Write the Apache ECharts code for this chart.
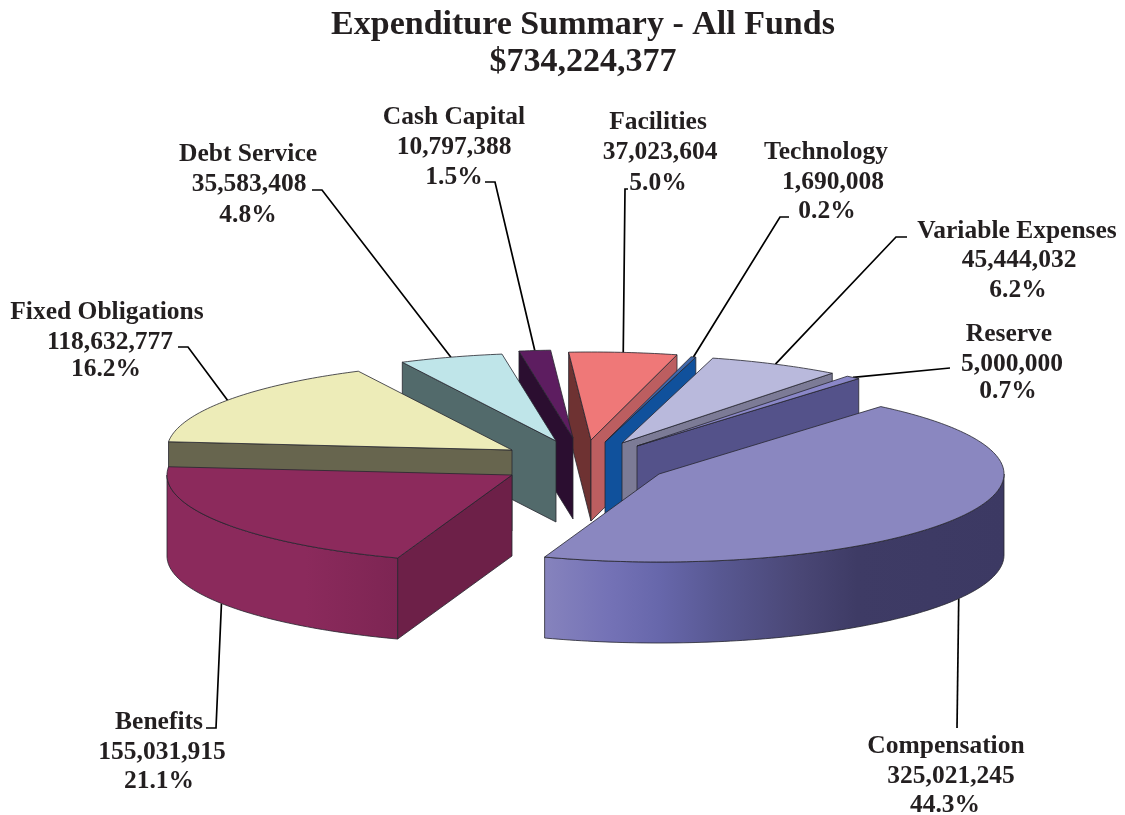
<!DOCTYPE html>
<html>
<head>
<meta charset="utf-8">
<style>html,body{margin:0;padding:0;background:#fff}#c{width:1125px;height:815px}</style>
<script src="https://cdn.jsdelivr.net/npm/echarts@6/dist/echarts.min.js"></script>
</head>
<body>
<div id="c"></div>
<script>
// ---- data ----
const names = ['Compensation','Benefits','Fixed Obligations','Debt Service','Cash Capital','Facilities','Technology','Variable Expenses','Reserve'];
const values = [325021245,155031915,118632777,35583408,10797388,37023604,1690008,45444032,5000000];
const titleText = 'Expenditure Summary - All Funds';

// ---- styling / layout ----
const topColors  = ['#8a87c0','#8c2a5c','#edecb8','#bfe5e9','#5d1d60','#ef7878','#3f68ab','#b9b9dc','#8a87c8'];
const edgeColors = ['#54528a','#6d2048','#67654e','#526a6b','#2b0e30','#6e3232','#10519c','#7c7b96','#54528a'];
const endEdgeColors = {5:'#bc5e60'};
const rimStops = {
  0:[[0,'#8683bd'],[0.14,'#7472b6'],[0.25,'#6767ab'],[0.38,'#585892'],[0.55,'#4a4776'],[0.68,'#3e3b65'],[1,'#3c3963']],
  1:[[0,'#8b2a5c'],[0.6,'#8b2a5c'],[1,'#7d2553']]
};
const apexes = [[659,474],[512,475],[512,450],[556,441],[573,438],[591,440],[605,442],[622,443],[637,446]];
const paintOrder = [5,6,7,8,4,3,2,1,0];
const RX = 345, RY = 88, DEPTH = 81, START = -50;
const labelLines = [
  [[946,746],[951,776],[945,805]],
  [[159,722],[162,752],[159,781]],
  [[107,312],[110,342],[106,369]],
  [[248,154],[249,184],[248,215]],
  [[454,117],[454,147],[454,177]],
  [[658,122],[660,152],[658,183]],
  [[826,152],[833,182],[827,211]],
  [[1017,231],[1019,260],[1018,290]],
  [[1009,334],[1012,364],[1008,391]]
];
const leaderElbows = [
  [[957,728]],
  [[206,728],[216,728]],
  [[178,347],[188,347]],
  [[312,190],[322,190]],
  [[485,182],[495,182]],
  [[628,189],[625,189]],
  [[789,217],[780,217]],
  [[907,237],[896,237]],
  [[950,368]]
];
const FONT = 'bold 25.5px "Liberation Serif","Times New Roman",serif';
const OUTLINE = '#26262e';

const total = values.reduce((s,v)=>s+v,0);
const fmt = v => v.toLocaleString('en-US');
const pct = v => (v/total*100).toFixed(1)+'%';
let acc = START;
const spans = values.map(v => { const a = acc; acc += v/total*360; return [a,acc]; });
const rad = d => d*Math.PI/180;
const onEllipse = (i,t,dy=0) => [apexes[i][0]+RX*Math.cos(rad(t)), apexes[i][1]+RY*Math.sin(rad(t))+dy];

function renderItem(params, api){
  const i = api.value(0);
  const [a,b] = spans[i];
  const apex = apexes[i];
  const kids = [];
  const poly = (points, fill) => kids.push({type:'polygon',shape:{points},style:{fill,stroke:OUTLINE,lineWidth:0.8,lineJoin:'round'}});
  const wall = (t,color) => {
    const p = onEllipse(i,t);
    poly([apex,p,[p[0],p[1]+DEPTH],[apex[0],apex[1]+DEPTH]],color);
  };
  if (Math.cos(rad(a)) < 0) wall(a,edgeColors[i]);
  if (Math.cos(rad(b)) > 0) wall(b,endEdgeColors[i] || edgeColors[i]);
  const r0 = Math.max(a,0), r1 = Math.min(b,180);
  if (r1 > r0){
    const upper=[], lower=[];
    for(let t=r0;t<r1;t+=1){upper.push(onEllipse(i,t));lower.unshift(onEllipse(i,t,DEPTH));}
    upper.push(onEllipse(i,r1));lower.unshift(onEllipse(i,r1,DEPTH));
    const stops=(rimStops[i]||[[0,edgeColors[i]],[1,edgeColors[i]]]).map(([offset,color])=>({offset,color}));
    const xs=upper.map(p=>p[0]);
    poly(upper.concat(lower),new echarts.graphic.LinearGradient(Math.min(...xs),0,Math.max(...xs),0,stops,true));
  }
  const topFace=[apex];
  const n=Math.max(2,Math.ceil(b-a));
  for(let k=0;k<=n;k++) topFace.push(onEllipse(i,a+(b-a)*k/n));
  poly(topFace,topColors[i]);
  return {type:'group',children:kids};
}

function renderLabels(params, api){
  const i = api.value(0);
  const mid = (spans[i][0]+spans[i][1])/2;
  const front = Math.sin(rad(mid))>0;
  const end = onEllipse(i,mid,front?DEPTH:0);
  const texts=[names[i],fmt(values[i]),pct(values[i])];
  const kids=[{type:'polyline',shape:{points:leaderElbows[i].concat([end])},style:{fill:null,stroke:'#000',lineWidth:1.7}}];
  texts.forEach((t,k)=>kids.push({type:'text',style:{text:t,x:labelLines[i][k][0],y:labelLines[i][k][1],align:'center',verticalAlign:'middle',font:FONT,fill:'#231f20'}}));
  return {type:'group',children:kids};
}

const chart = echarts.init(document.getElementById('c'),null,{renderer:'canvas'});
chart.setOption({
  animation:false,
  backgroundColor:'#fff',
  title:{
    text:titleText+'\n$'+fmt(total),
    left:578, top:2, textAlign:'center',
    textStyle:{fontFamily:'"Liberation Serif","Times New Roman",serif',fontWeight:'bold',fontSize:34,lineHeight:37,color:'#231f20'}
  },
  series:[
    {type:'custom',coordinateSystem:'none',silent:true,renderItem,
     data:paintOrder.map(i=>[i,values[i]]),z:2},
    {type:'custom',coordinateSystem:'none',silent:true,renderItem:renderLabels,
     data:names.map((n,i)=>[i,values[i]]),z:1}
  ]
});
</script>
</body>
</html>
